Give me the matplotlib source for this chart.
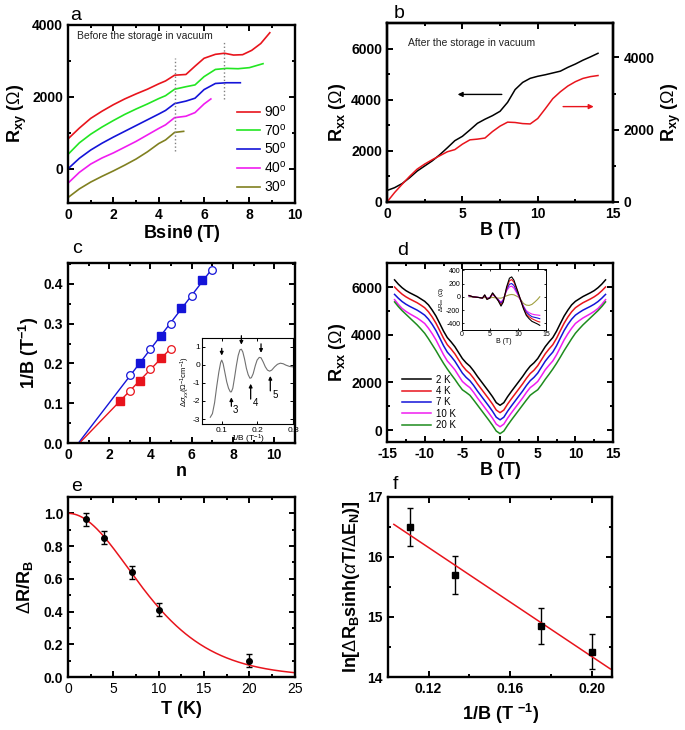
import numpy as np
import matplotlib
matplotlib.use("Agg")
import matplotlib.pyplot as plt
from matplotlib.ticker import MultipleLocator

plt.rcParams['font.family'] = ['Liberation Sans', 'DejaVu Sans']
plt.rcParams['mathtext.fontset'] = 'custom'
plt.rcParams['mathtext.rm'] = 'Liberation Sans'
plt.rcParams['mathtext.it'] = 'Liberation Sans:italic'
plt.rcParams['mathtext.bf'] = 'Liberation Sans:bold'
plt.rcParams['axes.linewidth'] = 1.7
plt.rcParams['axes.unicode_minus'] = False

# ---- panel a : Rxy vs Bsin(theta), before storage ----
a_labels = ['90', '70', '50', '40', '30']
a_colors = ['#e8141c', '#22e622', '#1414d8', '#f01cf0', '#808020']
a_x90 = [0, 0.5, 1, 1.5, 2, 2.5, 3, 3.5, 4, 4.3, 4.7, 5.2, 5.6, 6, 6.5, 6.9, 7.3, 7.7, 8.1, 8.5, 8.9]
a_y90 = [830, 1130, 1400, 1600, 1780, 1940, 2080, 2210, 2360, 2440, 2600, 2620, 2850, 3070, 3180, 3210, 3160, 3170, 3290, 3480, 3780]
a_x70 = [0, 0.5, 1, 1.5, 2, 2.5, 3, 3.5, 4, 4.3, 4.7, 5.2, 5.6, 6, 6.5, 7, 7.5, 8, 8.6]
a_y70 = [400, 720, 960, 1160, 1340, 1510, 1660, 1800, 1950, 2030, 2210, 2280, 2330, 2560, 2760, 2790, 2780, 2810, 2920]
a_x50 = [0, 0.5, 1, 1.5, 2, 2.5, 3, 3.5, 4, 4.3, 4.7, 5.2, 5.6, 6, 6.5, 7, 7.6]
a_y50 = [0, 290, 520, 710, 880, 1040, 1200, 1360, 1520, 1620, 1810, 1880, 1960, 2200, 2370, 2390, 2390]
a_x40 = [0, 0.5, 1, 1.5, 2, 2.5, 3, 3.5, 4, 4.3, 4.7, 5.2, 5.6, 6, 6.3]
a_y40 = [-400, -100, 130, 300, 440, 600, 760, 940, 1120, 1220, 1420, 1460, 1560, 1800, 1940]
a_x30 = [0, 0.5, 1, 1.5, 2, 2.5, 3, 3.5, 4, 4.3, 4.7, 5.1]
a_y30 = [-800, -560, -370, -210, -60, 100, 270, 470, 700, 800, 1010, 1040]

# ---- panel b : after storage ----
b_B = [0, 0.5, 1, 1.5, 2, 2.5, 3, 3.5, 4, 4.5, 5, 5.5, 6, 6.5, 7, 7.5, 8, 8.5, 9, 9.5, 10,
       10.5, 11, 11.5, 12, 12.5, 13, 13.5, 14]
b_rxx = [450, 560, 720, 950, 1210, 1410, 1610, 1850, 2120, 2400, 2570, 2820, 3080, 3240, 3380,
         3550, 3900, 4400, 4680, 4840, 4920, 4980, 5050, 5120, 5270, 5400, 5550, 5680, 5820]
b_rxy = [0, 260, 490, 710, 910, 1050, 1170, 1280, 1390, 1450, 1600, 1720, 1740, 1770, 1950,
         2100, 2210, 2200, 2170, 2160, 2310, 2580, 2860, 3050, 3210, 3330, 3420, 3470, 3500]

# ---- panel c : Landau fan ----
c_n_bf = [3.5, 4.5, 5.5, 6.5]
c_v_bf = [0.202, 0.268, 0.340, 0.410]
c_n_bo = [3, 4, 5, 6, 7]
c_v_bo = [0.170, 0.236, 0.300, 0.370, 0.435]
c_n_rf = [2.5, 3.5, 4.5]
c_v_rf = [0.105, 0.157, 0.213]
c_n_ro = [3, 4, 5]
c_v_ro = [0.130, 0.187, 0.237]
ci_x = [0.068, 0.074, 0.080, 0.086, 0.092, 0.097, 0.100, 0.104, 0.109, 0.114, 0.119, 0.124, 0.127,
        0.131, 0.136, 0.141, 0.146, 0.151, 0.155, 0.159, 0.164, 0.169, 0.174, 0.179, 0.183, 0.188,
        0.194, 0.199, 0.205, 0.210, 0.216, 0.222, 0.228, 0.234, 0.240, 0.248, 0.256, 0.264, 0.272,
        0.280, 0.290, 0.300]
ci_y = [-2.9, -2.7, -2.1, -1.2, -0.4, 0.12, 0.25, 0.05, -0.45, -0.95, -1.3, -1.5, -1.5,
        -1.3, -0.7, -0.05, 0.5, 0.82, 0.85, 0.7, 0.3, -0.2, -0.55, -0.75, -0.72, -0.5,
        -0.05, 0.25, 0.4, 0.38, 0.15, -0.12, -0.3, -0.36, -0.3, -0.12, 0.02, 0.08, 0.05,
        -0.03, -0.1, -0.12]

# ---- panel d : Rxx vs B at several T (half curves, symmetric in B) ----
d_labels = ['2 K', '4 K', '7 K', '10 K', '20 K']
d_colors = ['black', '#e8141c', '#1414d8', '#f01cf0', '#1e8c1e']
d_B = [0, 0.5, 1, 1.5, 2, 2.5, 3, 3.5, 4, 4.5, 5, 5.5, 6, 6.5, 7, 7.5, 8, 8.5, 9, 9.5, 10,
       10.5, 11, 11.5, 12, 12.5, 13, 13.5, 14]
d_2K = [1040, 1150, 1400, 1620, 1830, 2040, 2250, 2480, 2680, 2820, 3000, 3250, 3500, 3700, 3880,
        4150, 4470, 4780, 5030, 5250, 5400, 5500, 5600, 5680, 5760, 5850, 5970, 6120, 6300]
d_4K = [730, 840, 1090, 1310, 1520, 1730, 1940, 2170, 2370, 2510, 2700, 2950, 3200, 3400, 3580,
        3850, 4170, 4480, 4740, 4960, 5130, 5240, 5340, 5420, 5500, 5590, 5700, 5840, 6000]
d_7K = [430, 540, 790, 1010, 1220, 1430, 1640, 1870, 2070, 2210, 2390, 2640, 2890, 3090, 3270,
        3540, 3860, 4170, 4430, 4650, 4820, 4930, 5030, 5110, 5190, 5280, 5390, 5530, 5690]
d_10K = [140, 250, 500, 720, 930, 1140, 1350, 1580, 1780, 1900, 2040, 2280, 2530, 2720, 2900,
         3160, 3470, 3780, 4040, 4270, 4470, 4590, 4700, 4790, 4880, 4980, 5100, 5270, 5470]
d_20K = [-150, -40, 200, 420, 630, 840, 1050, 1260, 1460, 1580, 1690, 1900, 2130, 2340, 2560,
         2800, 3060, 3330, 3580, 3830, 4060, 4240, 4410, 4560, 4710, 4860, 5010, 5180, 5375]
di_B = [1.3, 2, 3, 3.7, 4.1, 4.5, 5, 5.5, 6, 6.5, 7, 7.4, 8, 8.5, 8.9, 9.3, 10, 10.5, 11, 11.5,
        12, 12.5, 13, 13.5, 13.9]
di_2K = [20, 0, -10, -20, 30, -40, -20, 60, 0, -60, -140, -80, 150, 280, 300, 250, 80, -50, -180,
         -280, -330, -370, -390, -410, -430]
di_4K = [20, 0, -10, -20, 25, -35, -20, 50, 0, -55, -120, -70, 130, 240, 260, 220, 70, -50, -170,
         -260, -300, -330, -350, -370, -380]
di_7K = [15, 0, -10, -20, 20, -30, -15, 45, 0, -45, -100, -50, 110, 190, 200, 170, 50, -50, -150,
         -230, -270, -300, -310, -320, -330]
di_10K = [10, 0, -10, -15, 15, -25, -10, 35, 0, -40, -80, -40, 90, 150, 160, 130, 30, -60, -140,
          -210, -240, -260, -270, -275, -280]
di_20K = [0, -5, -10, -15, -10, -15, -15, -10, -15, -20, -20, -10, 15, 30, 35, 30, 0, -40, -100,
          -125, -130, -115, -80, -40, 0]

# ---- panel e : amplitude vs T ----
e_T = [2, 4, 7, 10, 20]
e_amp = [0.965, 0.85, 0.64, 0.41, 0.10]
e_err = [0.04, 0.04, 0.04, 0.04, 0.04]

# ---- panel f : Dingle plot ----
f_x = [0.111, 0.133, 0.175, 0.200]
f_y = [16.5, 15.7, 14.85, 14.42]
f_err = [0.32, 0.31, 0.30, 0.29]

LAB = dict(fontsize=13, fontweight='bold')


def style(ax, xmaj, xmin, ymaj, ymin, right=True):
    ax.xaxis.set_major_locator(MultipleLocator(xmaj))
    ax.xaxis.set_minor_locator(MultipleLocator(xmin))
    ax.yaxis.set_major_locator(MultipleLocator(ymaj))
    ax.yaxis.set_minor_locator(MultipleLocator(ymin))
    ax.tick_params(which='both', direction='in', top=True, right=right, width=1.4)
    ax.tick_params(which='major', length=4, labelsize=10)
    ax.tick_params(which='minor', length=2.5)
    for lab in ax.get_xticklabels() + ax.get_yticklabels():
        lab.set_fontweight('bold')


fig = plt.figure(figsize=(6.85, 7.3), dpi=100)

# panel a
ax = fig.add_axes([0.0993, 0.722, 0.331, 0.244])
for xs, ys, lab, col in zip([a_x90, a_x70, a_x50, a_x40, a_x30],
                            [a_y90, a_y70, a_y50, a_y40, a_y30], a_labels, a_colors):
    ax.plot(xs, ys, color=col, lw=1.2, label=lab + r'$^\mathrm{o}$')
ax.plot([4.7, 4.7], [500, 3080], color='gray', ls=':', lw=1)
ax.plot([6.9, 6.9], [1950, 3550], color='gray', ls=':', lw=1)
ax.text(0.4, 3600, 'Before the storage in vacuum', fontsize=7.5, color='#222222')
ax.set_xlim(0, 10)
ax.set_ylim(-950, 4000)
style(ax, 2, 1, 2000, 1000)
ax.set_xlabel(r'Bsin$\mathbf{\theta}$ (T)', **LAB, labelpad=1)
ax.set_ylabel(r'R$_\mathbf{xy}$ ($\Omega$)', **LAB, labelpad=2)
ax.legend(loc='lower left', bbox_to_anchor=(0.71, 0.0), frameon=False, fontsize=10,
          handlelength=1.6, handletextpad=0.3, labelspacing=0.2, borderaxespad=0.2)

# panel b
ax = fig.add_axes([0.565, 0.7233, 0.33, 0.245])
ax.plot(b_B, b_rxx, color='black', lw=1.1)
ax.set_xlim(0, 15)
ax.set_ylim(0, 7000)
style(ax, 5, 2.5, 2000, 1000, right=False)
ax.set_xlabel('B (T)', **LAB, labelpad=1)
ax.set_ylabel(r'R$_\mathbf{xx}$ ($\Omega$)', **LAB, labelpad=2)
ax.annotate('', xy=(4.5, 4210), xytext=(7.8, 4210),
            arrowprops=dict(arrowstyle='-|>', color='black', lw=1, mutation_scale=7))
ax.text(1.4, 6100, 'After the storage in vacuum', fontsize=7.5, color='#222222')
ax2 = ax.twinx()
ax2.plot(b_B, b_rxy, color='#e8141c', lw=1.1)
ax2.set_ylim(0, 4950)
ax2.yaxis.set_major_locator(MultipleLocator(2000))
ax2.yaxis.set_minor_locator(MultipleLocator(1000))
ax2.tick_params(which='both', direction='out', width=1.4)
ax2.tick_params(which='major', length=4, labelsize=10)
ax2.tick_params(which='minor', length=2.5)
for lab in ax2.get_yticklabels():
    lab.set_fontweight('bold')
ax2.set_ylabel(r'R$_\mathbf{xy}$ ($\Omega$)', **LAB, labelpad=4)
ax2.annotate('', xy=(13.9, 2640), xytext=(11.5, 2640),
             arrowprops=dict(arrowstyle='-|>', color='#e8141c', lw=1, mutation_scale=7))

# panel c
ax = fig.add_axes([0.0993, 0.393, 0.331, 0.2466])
for nf, vf, no, vo, col in [(c_n_bf, c_v_bf, c_n_bo, c_v_bo, '#1414d8'),
                            (c_n_rf, c_v_rf, c_n_ro, c_v_ro, '#e8141c')]:
    n_all = np.array(nf + no)
    v_all = np.array(vf + vo)
    k, b0 = np.polyfit(n_all, v_all, 1)
    x0 = -b0 / k
    xl = np.array([x0, n_all.max()])
    ax.plot(xl, k * xl + b0, color=col, lw=1)
    ax.errorbar(nf, vf, yerr=0.005 if col == '#e8141c' else None, fmt='s', color=col,
                ms=5.5, capsize=1.5, elinewidth=0.8)
    ax.errorbar(no, vo, yerr=0.005 if col == '#e8141c' else None, fmt='o', mfc='white',
                mec=col, color=col, ms=5.5, mew=0.9, capsize=1.5, elinewidth=0.8)
ax.set_xlim(0, 11)
ax.set_ylim(0, 0.452)
style(ax, 2, 1, 0.1, 0.05)
ax.set_xlabel('n', **LAB, labelpad=1)
ax.set_ylabel(r'1/B (T$^\mathbf{-1}$)', **LAB, labelpad=2)

# panel c inset
ai = fig.add_axes([0.295, 0.4185, 0.133, 0.118])
ai.plot(ci_x, ci_y, color='#707070', lw=0.8)
ai.set_xlim(0.045, 0.3)
ai.set_ylim(-3.3, 1.45)
ai.xaxis.set_major_locator(MultipleLocator(0.1))
ai.yaxis.set_major_locator(MultipleLocator(1))
ai.tick_params(direction='in', length=2, width=0.7, labelsize=6, pad=1.5, right=True, top=True)
for s in ai.spines.values():
    s.set_linewidth(0.8)
ai.set_xlabel(r'1/B (T$^{-1}$)', fontsize=6, labelpad=-0.5)
ai.set_ylabel(r'$\Delta\sigma_{xx}(\Omega^{-1}$cm$^{-1})$', fontsize=5.5, labelpad=0)
arr = dict(arrowstyle='-|>', color='black', lw=0.9, mutation_scale=5)
for xa, y1, y2 in [(0.100, 1.05, 0.35), (0.155, 1.75, 0.95), (0.210, 1.3, 0.5)]:
    ai.annotate('', xy=(xa, y2), xytext=(xa, y1), arrowprops=arr, annotation_clip=False)
for xa, y1, y2, lab in [(0.127, -2.45, -1.65, '3'), (0.181, -2.05, -0.9, '4'),
                        (0.236, -1.6, -0.47, '5')]:
    ai.annotate('', xy=(xa, y2), xytext=(xa, y1), arrowprops=arr)
    ai.text(xa + 0.005, y1 - 0.05, lab, fontsize=7, va='center')

# panel d
ax = fig.add_axes([0.565, 0.3945, 0.33, 0.245])
B_half = np.array(d_B)
for ys, lab, col in zip([d_2K, d_4K, d_7K, d_10K, d_20K], d_labels, d_colors):
    ys = np.array(ys)
    ax.plot(np.concatenate([-B_half[::-1], B_half[1:]]),
            np.concatenate([ys[::-1], ys[1:]]), color=col, lw=1.1, label=lab)
ax.set_xlim(-15, 15)
ax.set_ylim(-500, 7000)
style(ax, 5, 2.5, 2000, 1000)
ax.set_xlabel('B (T)', **LAB, labelpad=1)
ax.set_ylabel(r'R$_\mathbf{xx}$ ($\Omega$)', **LAB, labelpad=2)
ax.legend(loc='upper left', bbox_to_anchor=(0.04, 0.41), frameon=False, fontsize=7,
          handlelength=3, handletextpad=0.5, labelspacing=0.15, borderaxespad=0.2)

# panel d inset
ai = fig.add_axes([0.674, 0.548, 0.123, 0.0836])
for ys, col in zip([di_20K, di_10K, di_7K, di_4K, di_2K],
                   ['#a0a040', '#f01cf0', '#1414d8', '#e8141c', 'black']):
    ai.plot(di_B, ys, color=col, lw=0.8)
ai.set_xlim(0, 15)
ai.set_ylim(-500, 420)
ai.xaxis.set_major_locator(MultipleLocator(5))
ai.yaxis.set_major_locator(MultipleLocator(200))
ai.tick_params(direction='in', length=1.5, width=0.6, labelsize=5, pad=1, right=True, top=True)
for s in ai.spines.values():
    s.set_linewidth(0.7)
ai.set_xlabel('B (T)', fontsize=5, labelpad=0)
ai.set_ylabel(r'$\Delta$R$_{xx}$ ($\Omega$)', fontsize=4.5, labelpad=0)

# panel e
ax = fig.add_axes([0.0993, 0.0726, 0.331, 0.2466])
ax.errorbar(e_T, e_amp, yerr=e_err, fmt='o', color='black', ms=4, capsize=2, elinewidth=1)
T_arr = np.array(e_T, float)
A_arr = np.array(e_amp)
alphas = np.linspace(0.1, 0.5, 2001)
sse = [np.sum((a * T_arr / np.sinh(a * T_arr) - A_arr) ** 2) for a in alphas]
a_fit = alphas[int(np.argmin(sse))]
T_line = np.linspace(1e-3, 25, 300)
ax.plot(T_line, a_fit * T_line / np.sinh(a_fit * T_line), color='#e8141c', lw=1.1)
ax.set_xlim(0, 25)
ax.set_ylim(0, 1.1)
style(ax, 5, 2.5, 0.2, 0.1)
for lab in ax.get_xticklabels():
    lab.set_fontweight('normal')
ax.set_xlabel('T (K)', **LAB, labelpad=4)
ax.set_ylabel(r'$\Delta$R/R$_\mathbf{B}$', **LAB, labelpad=6)

# panel f
ax = fig.add_axes([0.566, 0.0726, 0.328, 0.2466])
ax.errorbar(f_x, f_y, yerr=f_err, fmt='s', color='black', ms=4, capsize=2, elinewidth=1)
k, b0 = np.polyfit(f_x, f_y, 1)
xl = np.array([0.103, 0.209])
ax.plot(xl, k * xl + b0, color='#e8141c', lw=1.1)
ax.set_xlim(0.1, 0.21)
ax.set_ylim(14, 17)
style(ax, 0.04, 0.02, 1, 0.5)
ax.set_xticks([0.12, 0.16, 0.20])
ax.set_xticklabels(['0.12', '0.16', '0.20'], fontweight='bold')
ax.set_xlabel(r'1/B (T $^\mathbf{-1}$)', **LAB, labelpad=4)
ax.set_ylabel(r'ln[$\Delta$R$_\mathbf{B}$sinh($\alpha$T/$\Delta$E$_\mathbf{N}$)]', **LAB, labelpad=4)

# panel letters
for x, y, s in [(0.102, 0.979, 'a'), (0.575, 0.982, 'b'), (0.105, 0.66, 'c'),
                (0.58, 0.657, 'd'), (0.104, 0.334, 'e'), (0.574, 0.336, 'f')]:
    fig.text(x, y, s, fontsize=14, va='center')

fig.savefig('out.png', dpi=100)
